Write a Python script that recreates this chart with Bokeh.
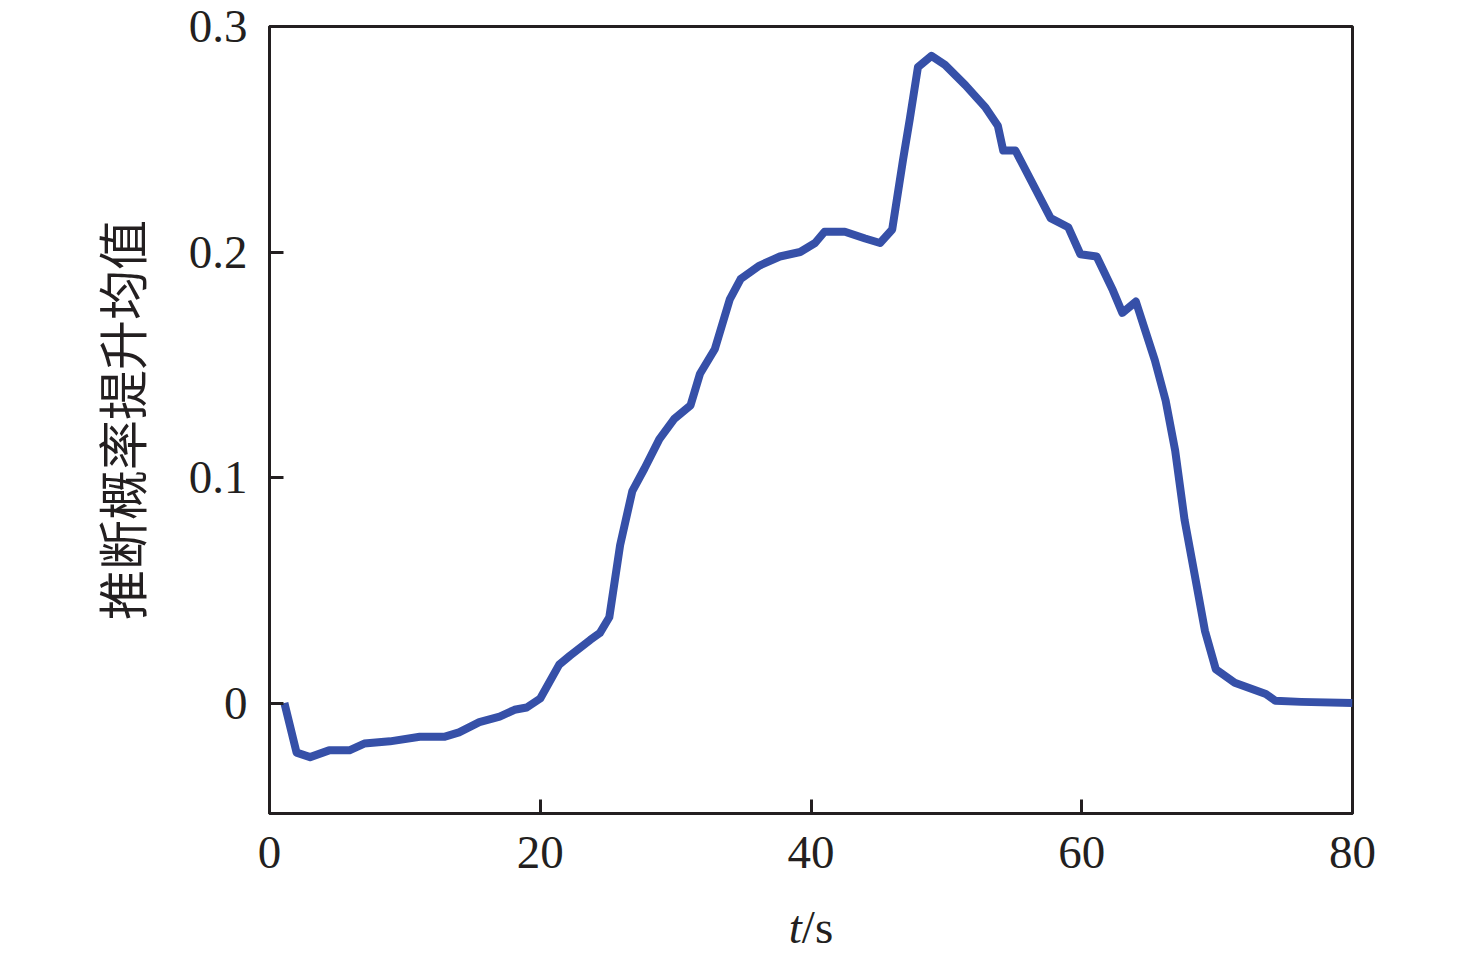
from bokeh.plotting import figure
from bokeh.embed import file_html
from bokeh.resources import INLINE
from bokeh.layouts import column
from bokeh.models import FixedTicker, CustomJSTickFormatter, Range1d, Div

t = [1.1, 2.0, 3.0, 4.4, 5.9, 7.0, 8.9, 11.1, 12.9, 14.0, 15.5, 17.0, 18.1, 19.0, 20.0,
     21.4, 22.2, 23.7, 24.4, 25.1, 25.9, 26.8, 27.7, 28.8, 29.9, 31.1, 31.8, 32.9, 34.0,
     34.8, 36.2, 37.7, 39.2, 40.3, 41.0, 42.5, 44.0, 45.1, 46.0, 46.8, 47.3, 47.9, 48.9,
     49.9, 51.4, 52.9, 53.8, 54.2, 55.1, 57.7, 59.0, 59.9, 61.1, 62.3, 63.0, 64.0, 64.7,
     65.4, 66.2, 66.9, 67.6, 68.4, 69.1, 69.9, 71.3, 73.6, 74.3, 76.2, 80.0]
lift = [0.0, -0.022, -0.024, -0.021, -0.021, -0.018, -0.017, -0.015, -0.015, -0.013, -0.0085,
        -0.006, -0.003, -0.002, 0.002, 0.017, 0.021, 0.028, 0.031, 0.038, 0.070, 0.094, 0.104,
        0.117, 0.126, 0.132, 0.146, 0.157, 0.179, 0.188, 0.194, 0.198, 0.200, 0.204, 0.209,
        0.209, 0.206, 0.204, 0.210, 0.241, 0.259, 0.282, 0.287, 0.283, 0.274, 0.264, 0.256,
        0.245, 0.245, 0.215, 0.211, 0.199, 0.198, 0.183, 0.173, 0.178, 0.165, 0.152, 0.134,
        0.112, 0.081, 0.055, 0.032, 0.015, 0.009, 0.004, 0.001, 0.0005, 0.0]

x_ticks = [0, 20, 40, 60, 80]
y_ticks = [0, 0.1, 0.2, 0.3]
y_label = "推断概率提升均值"
x_label_html = "<i>t</i>/s"

TXT = "#231f20"
SERIF = "Liberation Serif"

fig = figure(frame_width=1083, frame_height=787, min_border_left=269, min_border_top=26,
             min_border_right=116, min_border_bottom=85,
             output_backend="svg", toolbar_location=None,
             x_range=Range1d(0, 80), y_range=Range1d(-0.049, 0.3))

fig.line(t, lift, line_color="#3650A8", line_width=8, line_join="round")

fig.grid.visible = False
fig.outline_line_color = TXT
fig.outline_line_width = 3
fig.background_fill_color = "white"
fig.border_fill_color = "white"

for ax in (fig.xaxis[0], fig.yaxis[0]):
    ax.axis_line_color = TXT
    ax.axis_line_width = 3
    ax.major_tick_line_color = TXT
    ax.major_tick_line_width = 3
    ax.major_tick_in = 14
    ax.major_tick_out = 0
    ax.minor_tick_line_color = None
    ax.major_label_text_font = SERIF
    ax.major_label_text_font_size = "47px"
    ax.major_label_text_color = TXT

fig.xaxis.ticker = FixedTicker(ticks=x_ticks)
fig.yaxis.ticker = FixedTicker(ticks=y_ticks)
fig.yaxis.formatter = CustomJSTickFormatter(code="return tick === 0 ? '0' : tick.toFixed(1);")
fig.xaxis.major_label_standoff = 23
fig.yaxis.major_label_standoff = 22

fig.yaxis.axis_label = y_label
fig.yaxis.axis_label_text_font = "Noto Sans CJK SC"
fig.yaxis.axis_label_text_font_style = "normal"
fig.yaxis.axis_label_text_font_size = "50px"
fig.yaxis.axis_label_text_color = TXT
fig.yaxis.axis_label_standoff = 30

xlab = Div(text=x_label_html, width=120, height=55, margin=(6, 0, 0, 751),
           styles={"font-family": SERIF, "font-size": "47px", "color": TXT,
                   "text-align": "center", "line-height": "1", "width": "120px"})

p = column(fig, xlab, spacing=0)

open("out.html", "w").write(file_html(p, INLINE))
